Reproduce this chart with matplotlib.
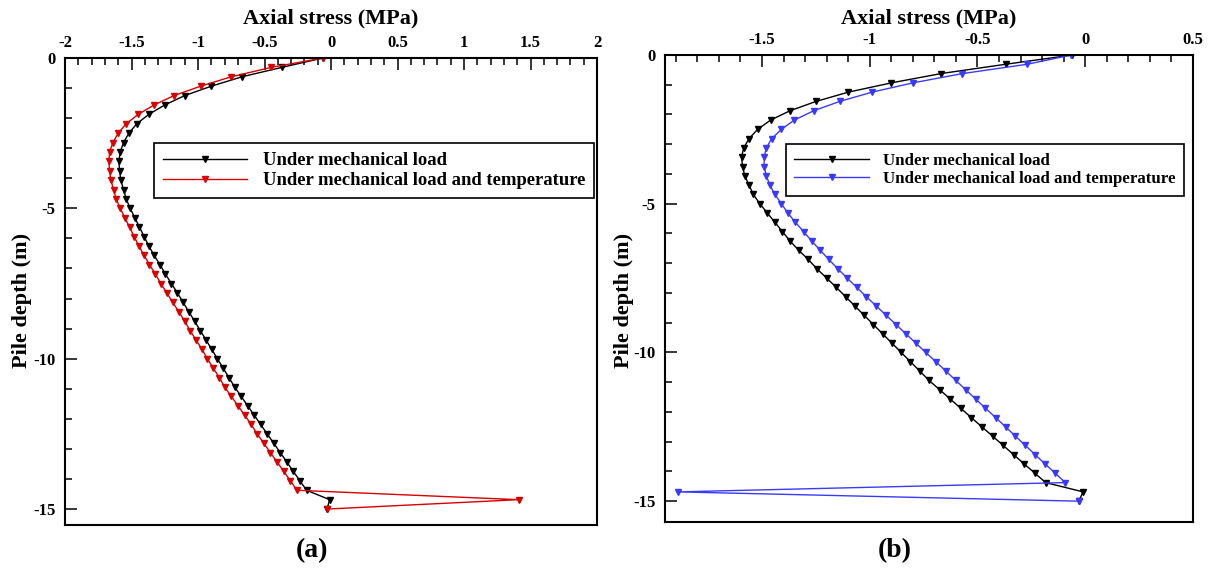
import matplotlib
matplotlib.use('Agg')
import matplotlib.pyplot as plt
from matplotlib.ticker import MultipleLocator, FormatStrFormatter
from matplotlib.lines import Line2D

plt.rcParams['font.family'] = ['Liberation Serif', 'DejaVu Serif']
plt.rcParams['font.weight'] = 'bold'
plt.rcParams['axes.unicode_minus'] = False

# Pile nodes (m), 48 elements over 15 m
depth = [0.0, -0.3125, -0.625, -0.9375, -1.25, -1.5625, -1.875, -2.1875, -2.5,
         -2.8125, -3.125, -3.4375, -3.75, -4.0625, -4.375, -4.6875, -5.0,
         -5.3125, -5.625, -5.9375, -6.25, -6.5625, -6.875, -7.1875, -7.5,
         -7.8125, -8.125, -8.4375, -8.75, -9.0625, -9.375, -9.6875, -10.0,
         -10.3125, -10.625, -10.9375, -11.25, -11.5625, -11.875, -12.1875,
         -12.5, -12.8125, -13.125, -13.4375, -13.75, -14.0625, -14.375,
         -14.6875, -15.0]

# Axial stress (MPa) under mechanical load only
stress_mech = [-0.06, -0.37, -0.67, -0.90, -1.10, -1.25, -1.37, -1.46, -1.52,
               -1.56, -1.585, -1.595, -1.59, -1.58, -1.56, -1.54, -1.51,
               -1.475, -1.44, -1.405, -1.37, -1.33, -1.285, -1.245, -1.20,
               -1.155, -1.112, -1.069, -1.026, -0.983, -0.940, -0.897, -0.854,
               -0.811, -0.768, -0.725, -0.676, -0.627, -0.578, -0.529, -0.480,
               -0.430, -0.381, -0.332, -0.283, -0.233, -0.184, -0.01, -0.03]

# Axial stress (MPa) under mechanical load and temperature, case (a)
stress_temp_a = [-0.06, -0.45, -0.75, -0.98, -1.18, -1.33, -1.45, -1.54, -1.60,
                 -1.64, -1.665, -1.67, -1.665, -1.655, -1.635, -1.615, -1.585,
                 -1.55, -1.515, -1.48, -1.445, -1.405, -1.365, -1.32, -1.28,
                 -1.235, -1.19, -1.145, -1.10, -1.06, -1.015, -0.97, -0.93,
                 -0.885, -0.84, -0.80, -0.75, -0.70, -0.65, -0.60, -0.555,
                 -0.505, -0.455, -0.405, -0.355, -0.305, -0.256, 1.41, -0.03]

# Axial stress (MPa) under mechanical load and temperature, case (b)
stress_temp_b = [-0.065, -0.27, -0.57, -0.80, -0.99, -1.14, -1.26, -1.35, -1.41,
                 -1.455, -1.48, -1.49, -1.49, -1.48, -1.463, -1.44, -1.41,
                 -1.38, -1.345, -1.307, -1.27, -1.23, -1.19, -1.148, -1.105,
                 -1.06, -1.016, -0.970, -0.924, -0.878, -0.832, -0.786, -0.740,
                 -0.693, -0.647, -0.601, -0.555, -0.509, -0.463, -0.416, -0.370,
                 -0.324, -0.278, -0.232, -0.186, -0.139, -0.093, -1.89, -0.03]

labels = ['Under mechanical load', 'Under mechanical load and temperature']
panel_tags = ['(a)', '(b)']

W, H = 1209, 570
fig = plt.figure(figsize=(W / 100, H / 100), dpi=100)


def px_axes(x0, y0, x1, y1):
    return fig.add_axes([x0 / W, 1 - y1 / H, (x1 - x0) / W, (y1 - y0) / H])


def style_axes(ax, xlim, ylim):
    ax.set_xlim(*xlim)
    ax.set_ylim(*ylim)
    ax.xaxis.set_major_locator(MultipleLocator(0.5))
    ax.xaxis.set_minor_locator(MultipleLocator(0.1))
    ax.yaxis.set_major_locator(MultipleLocator(5))
    ax.yaxis.set_minor_locator(MultipleLocator(1))
    ax.xaxis.set_major_formatter(FormatStrFormatter('%g'))
    ax.yaxis.set_major_formatter(FormatStrFormatter('%g'))
    ax.tick_params(which='both', direction='in', top=True, bottom=False,
                   left=True, right=False, labeltop=True, labelbottom=False,
                   width=1.1, labelsize=12)
    ax.tick_params(which='major', length=8.5, pad=5)
    ax.tick_params(axis='y', which='major', pad=7)
    ax.tick_params(which='minor', length=5)
    for sp in ax.spines.values():
        sp.set_linewidth(1.5)
    for t in ax.get_xticklabels() + ax.get_yticklabels():
        t.set_fontweight('bold')


def draw_panel(ax, temp_stress, color, legend_anchor, legend_size, hlen):
    ax.plot(stress_mech, depth, color='black', lw=1.0, marker='v',
            ms=5, mec='black', mfc='black')
    ax.plot(temp_stress, depth, color=color, lw=1.0, marker='v',
            ms=5, mec=color, mfc=color)
    handles = [Line2D([], [], color='black', lw=1.0, marker='v', ms=5),
               Line2D([], [], color=color, lw=1.0, marker='v', ms=5)]
    leg = ax.legend(handles, labels, loc='upper left',
                    bbox_to_anchor=legend_anchor, frameon=True,
                    fancybox=False, edgecolor='black', framealpha=1,
                    handlelength=hlen, handletextpad=0.85, borderpad=0.5,
                    labelspacing=0.15, borderaxespad=0, numpoints=1,
                    prop={'size': legend_size, 'weight': 'bold'})
    leg.get_frame().set_linewidth(1.2)


# Panel (a)
ax1 = px_axes(65, 58, 597, 525)
draw_panel(ax1, stress_temp_a, '#d80000', (0.167, 0.818), 13.4, 4.5)
style_axes(ax1, (-2, 2), (-15.53, 0))

# Panel (b)
ax2 = px_axes(665, 55, 1193, 522)
draw_panel(ax2, stress_temp_b, '#3a3aff', (0.229, 0.809), 12.2, 4.4)
style_axes(ax2, (-1.95, 0.5), (-15.7, 0))

for cx, lx, tx, tag in [(331, 22, 312, panel_tags[0]),
                        (929, 624, 895, panel_tags[1])]:
    fig.text(cx / W, 1 - 18 / H, 'Axial stress (MPa)', ha='center',
             va='center', fontsize=16, fontweight='bold')
    fig.text(lx / W, 1 - 300 / H, 'Pile depth (m)', ha='center',
             va='center', rotation=90, fontsize=16, fontweight='bold')
    fig.text(tx / W, 1 - 551 / H, tag, ha='center', va='center',
             fontsize=20, fontweight='bold')

fig.savefig('out.png', dpi=100)
